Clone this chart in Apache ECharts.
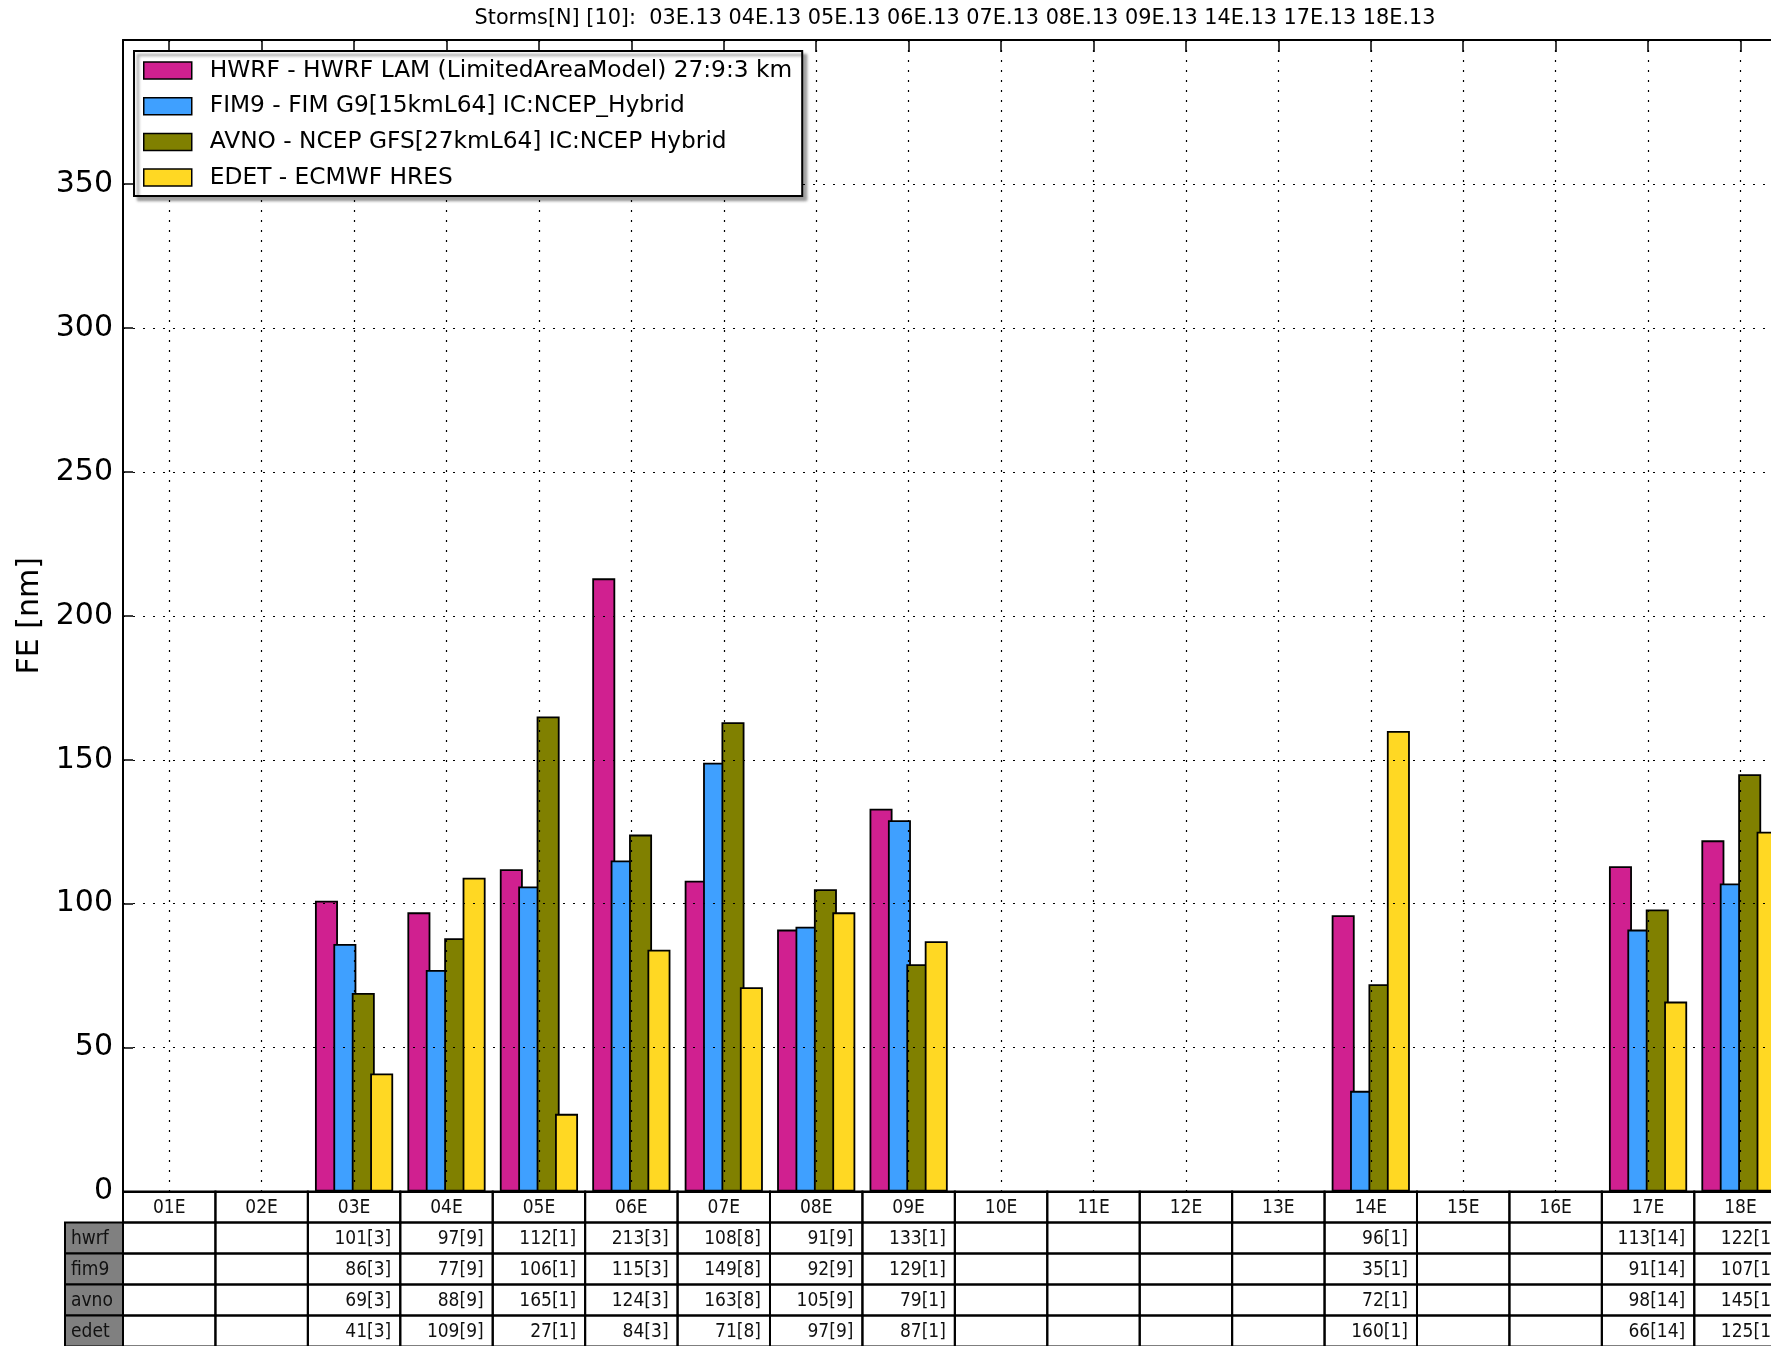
<!DOCTYPE html>
<html>
<head>
<meta charset="utf-8">
<script src="https://cdn.jsdelivr.net/npm/echarts@6/dist/echarts.min.js"></script>
<style>
  html, body { margin: 0; padding: 0; background: #fff; overflow: hidden; }
  /* the plot frame runs a little past the right edge of the window */
  #chart { width: 1787px; height: 1346px; }
</style>
</head>
<body>
<div id="chart"></div>
<script>
// Storm identifiers (eastern Pacific, 2013) along the category axis
const storms = ['01E', '02E', '03E', '04E', '05E', '06E', '07E', '08E', '09E',
                '10E', '11E', '12E', '13E', '14E', '15E', '16E', '17E', '18E'];

// Mean forecast error [nm] per storm and model
const hwrf = [null, null, 101, 97, 112, 213, 108, 91, 133, null, null, null, null, 96, null, null, 113, 122];
const fim9 = [null, null, 86, 77, 106, 115, 149, 92, 129, null, null, null, null, 35, null, null, 91, 107];
const avno = [null, null, 69, 88, 165, 124, 163, 105, 79, null, null, null, null, 72, null, null, 98, 145];
const edet = [null, null, 41, 109, 27, 84, 71, 97, 87, null, null, null, null, 160, null, null, 66, 125];

// Number of verifying cases per storm
const caseCounts = [null, null, 3, 9, 1, 3, 8, 9, 1, null, null, null, null, 1, null, null, 14, 1];

// Table row labels and legend entries
const rowKeys = ['hwrf', 'fim9', 'avno', 'edet'];
const modelNames = [
  'HWRF - HWRF LAM (LimitedAreaModel) 27:9:3 km',
  'FIM9 - FIM G9[15kmL64] IC:NCEP_Hybrid',
  'AVNO - NCEP GFS[27kmL64] IC:NCEP Hybrid',
  'EDET - ECMWF HRES'
];
const yearSuffix = '.13';

const rowValues = [hwrf, fim9, avno, edet];
const palette = ['#D02090', '#3FA0FF', '#808000', '#FFD823'];

const MAIN_FONT = 'DejaVu Sans';
const TABLE_FONT = '"DejaVu Sans Condensed", "DejaVu Sans", sans-serif';
const ROW_H = 31;
const LABEL_CELL_W = 58;

// Title lists the storms that have at least one verified forecast
const verified = storms.filter((s, i) => caseCounts[i] != null);
const titleText = 'Storms[N] [' + verified.length + ']:  ' +
  verified.map(s => s + yearSuffix).join(' ');

// Table cells: header row (0) plus one row per model
const tableData = [];
for (let r = 0; r <= rowKeys.length; r++) {
  for (let c = 0; c < storms.length; c++) tableData.push([c, r]);
}

function cellText(row, c) {
  if (row === 0) return '';
  const v = rowValues[row - 1][c];
  return v == null ? '' : v + '[' + caseCounts[c] + ']';
}

function renderCell(params, api) {
  const c = api.value(0);
  const row = api.value(1);
  const base = api.coord([c, 0]);
  const w = api.size([1, 0])[0];
  const x = base[0] - w / 2;
  const y = base[1] + row * ROW_H;
  const children = [{
    type: 'rect',
    shape: { x: x, y: y, width: w, height: ROW_H },
    style: { fill: null, stroke: '#000', lineWidth: 2 }
  }];
  const txt = cellText(row, c);
  if (txt) {
    children.push({
      type: 'text',
      style: {
        x: x + w - 9, y: y + ROW_H / 2 + 1,
        text: txt, align: 'right', verticalAlign: 'middle',
        font: '19px ' + TABLE_FONT, fill: '#111'
      }
    });
  }
  if (c === 0 && row > 0) {
    children.push({
      type: 'rect',
      shape: { x: x - LABEL_CELL_W, y: y, width: LABEL_CELL_W, height: ROW_H },
      style: { fill: '#808080', stroke: '#000', lineWidth: 2 }
    });
    children.push({
      type: 'text',
      style: {
        x: x - LABEL_CELL_W + 6, y: y + ROW_H / 2 + 1,
        text: rowKeys[row - 1], align: 'left', verticalAlign: 'middle',
        font: '19px ' + TABLE_FONT, fill: '#111'
      }
    });
  }
  return { type: 'group', children: children };
}

const barSeries = rowValues.map((vals, i) => ({
  name: modelNames[i],
  type: 'bar',
  data: vals,
  barWidth: 23,
  barGap: '-20%',
  z: 1,
  itemStyle: { color: palette[i], borderColor: '#000', borderWidth: 1.8 },
  emphasis: { disabled: true }
}));

const gridLine = { color: '#000', width: 1.2, type: [2, 8] };

const chart = echarts.init(document.getElementById('chart'), null, { renderer: 'canvas' });
chart.setOption({
  animation: false,
  backgroundColor: '#fff',
  textStyle: { fontFamily: MAIN_FONT },
  title: {
    text: titleText,
    left: 955, top: 8, padding: 0,
    textAlign: 'center',
    textStyle: { fontFamily: MAIN_FONT, fontSize: 20.8, fontWeight: 'normal', color: '#000' }
  },
  legend: {
    data: modelNames,
    orient: 'vertical',
    left: 134, top: 51,
    padding: [8, 10, 7, 9],
    itemWidth: 48, itemHeight: 17, itemGap: 12.7,
    icon: 'rect',
    selectedMode: false,
    backgroundColor: '#fff',
    borderColor: '#000', borderWidth: 2, borderRadius: 0,
    shadowColor: 'rgba(0,0,0,0.4)', shadowBlur: 3, shadowOffsetX: 4, shadowOffsetY: 4,
    itemStyle: { borderColor: '#000', borderWidth: 1.5 },
    textStyle: { fontFamily: MAIN_FONT, fontSize: 23.3, lineHeight: 23, color: '#000', padding: [0, 0, 0, 13] },
    z: 10
  },
  grid: { left: 123, top: 40, right: 0.3, bottom: 154.4, show: false, outerBoundsMode: 'none' },
  xAxis: [{
    type: 'category',
    data: storms,
    position: 'bottom',
    z: 3,
    axisLine: { lineStyle: { color: '#000', width: 2 } },
    axisTick: { show: false },
    axisLabel: { fontFamily: TABLE_FONT, fontSize: 19, color: '#111', margin: 7, interval: 0 },
    splitLine: { show: false }
  }, {
    type: 'category',
    data: storms,
    position: 'top',
    z: 3,
    axisLine: { lineStyle: { color: '#000', width: 2 } },
    axisTick: { show: true, inside: true, alignWithLabel: true, length: 12, interval: 0,
                lineStyle: { color: '#000', width: 1.5 } },
    axisLabel: { show: false },
    splitLine: { show: true, alignWithLabel: true, interval: 0, lineStyle: gridLine }
  }],
  yAxis: {
    type: 'value',
    min: 0, max: 400, interval: 50,
    z: 3,
    name: 'FE [nm]',
    nameLocation: 'middle',
    nameGap: 78,
    nameTextStyle: { fontFamily: MAIN_FONT, fontSize: 30, color: '#000' },
    axisLine: { show: true, lineStyle: { color: '#000', width: 2 } },
    axisTick: { show: true, inside: true, length: 10, lineStyle: { color: '#000', width: 1.5 } },
    axisLabel: {
      fontFamily: MAIN_FONT, fontSize: 30, color: '#000', margin: 10,
      formatter: v => (v >= 400 ? '' : String(v))
    },
    splitLine: { show: true, lineStyle: gridLine }
  },
  series: barSeries.concat([{
    type: 'custom',
    name: 'table',
    xAxisIndex: 0, yAxisIndex: 0,
    data: tableData,
    encode: { x: 0, y: 1 },
    clip: false,
    silent: true,
    z: 2,
    renderItem: renderCell
  }])
});
</script>
</body>
</html>
